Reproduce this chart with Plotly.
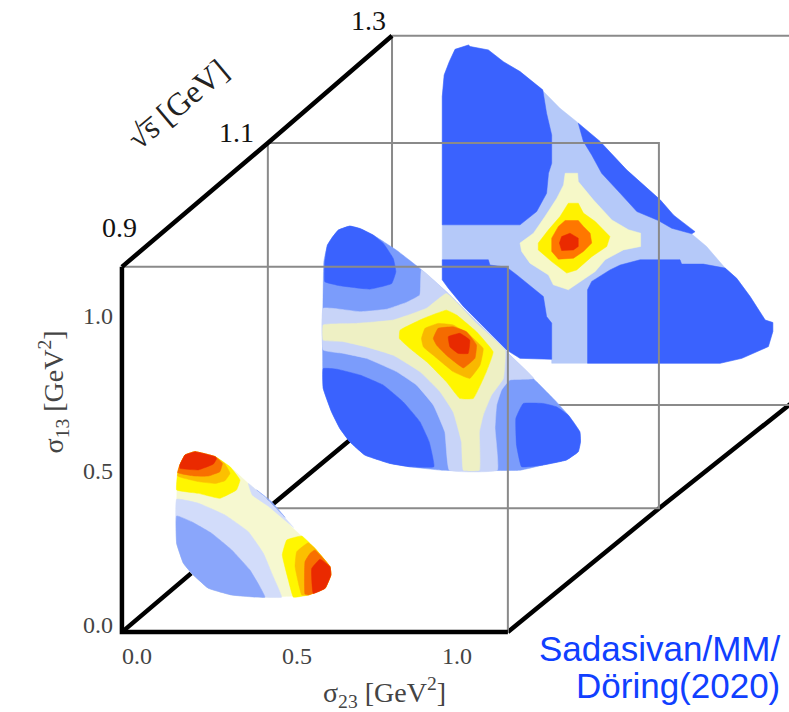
import plotly.graph_objects as go

# sqrt(s) slices and where each one sits in the oblique projection (sigma units)
sqrt_s = [0.9, 1.1, 1.3]
slice_dx = [0.0, 0.456, 0.844]
slice_dy = [0.0, 0.401, 0.748]
box_left = [-0.047, -0.047, -0.047]
box_right = [1.159, 1.175, 1.25]
box_bottom = [-0.023, -0.023, -0.036]
box_top = [1.159, 1.159, 1.159]
edge_smoothing = [0.3, 0.3, 0.0]

tick_vals = [0.0, 0.5, 1.0]
tick_text = ["0.0", "0.5", "1.0"]
sqrt_s_labels = ["0.9", "1.1", "1.3"]

# Black edges of the box, in projected sigma coordinates
edge_top = [(-0.047, 1.159), (0.409, 1.560), (0.797, 1.907)]
edge_floor_left = [(-0.047, -0.023), (0.409, 0.378), (0.797, 0.712)]
edge_floor_right = [(1.159, -0.023), (1.631, 0.377), (2.05, 0.722)]
edge_front = [(-0.047, 1.159), (-0.047, -0.023), (1.159, -0.023)]

# ---- sqrt(s) = 1.3 GeV: iso-intensity regions in (sigma23, sigma13) ----
back_outline = [(.192,1.129),(.150,1.115),(.132,1.075),(.116,1.032),(.110,.962),(.110,.369),(.129,.342),(.176,.283),(.311,.142),(.353,.115),(.452,.112),(.452,.099),(.978,.099),(1.046,.115),(1.129,.153),(1.143,.202),(1.143,.231),(1.119,.239),(1.072,.315),(1.030,.374),(.994,.407),(.936,.477),(.874,.531),(.791,.628),(.686,.725),(.603,.817),(.530,.881),(.478,.924),(.421,.984),(.353,1.043),(.301,1.075),(.254,1.113),(.197,1.124)]
back_dark1 = [(.110,.547),(.353,.547),(.405,.590),(.436,.649),(.442,.714),(.452,.746),(.452,.838),(.436,.908),(.424,.984),(.353,1.043),(.301,1.075),(.254,1.113),(.197,1.124),(.192,1.129),(.150,1.115),(.132,1.075),(.116,1.032),(.110,.962)]
back_dark2 = [(.535,.876),(.551,.817),(.577,.773),(.608,.714),(.666,.649),(.718,.590),(.785,.561),(.827,.536),(.890,.518),(.900,.525),(.832,.579),(.791,.628),(.686,.725),(.603,.817)]
back_dark3 = [(.564,.099),(.564,.337),(.577,.364),(.634,.401),(.666,.417),(.728,.434),(.853,.434),(.858,.420),(.926,.420),(.994,.407),(1.030,.374),(1.072,.315),(1.119,.239),(1.143,.231),(1.143,.202),(1.129,.153),(1.046,.115),(.978,.099)]
back_dark4 = [(.110,.434),(.254,.434),(.259,.417),(.311,.410),(.343,.385),(.395,.342),(.426,.315),(.436,.250),(.452,.229),(.452,.112),(.353,.115),(.311,.142),(.176,.283),(.129,.342),(.110,.369)]
back_cream = [(.494,.714),(.533,.714),(.535,.687),(.582,.628),(.640,.563),(.692,.531),(.730,.520),(.730,.477),(.676,.466),(.619,.434),(.588,.396),(.541,.364),(.504,.337),(.457,.353),(.442,.385),(.384,.423),(.358,.461),(.353,.488),(.395,.520),(.431,.574),(.468,.633),(.489,.676)]
back_yellow = [(.504,.617),(.535,.617),(.551,.585),(.588,.558),(.634,.509),(.624,.477),(.577,.444),(.530,.401),(.499,.391),(.452,.428),(.410,.466),(.410,.488),(.442,.531),(.478,.574)]
back_orange = [(.494,.561),(.535,.561),(.551,.542),(.572,.520),(.577,.488),(.551,.461),(.520,.439),(.473,.436),(.452,.461),(.452,.504),(.473,.542)]
back_red = [(.483,.509),(.509,.520),(.535,.504),(.535,.477),(.520,.466),(.483,.464),(.476,.488)]

# ---- sqrt(s) = 1.1 GeV ----
mid_outline = [(.209,.890),(.173,.877),(.152,.850),(.139,.828),(.128,.775),(.126,.365),(.152,.289),(.178,.235),(.209,.192),(.256,.149),(.334,.122),(.397,.111),(.496,.100),(.741,.100),(.814,.117),(.886,.133),(.923,.160),(.930,.192),(.928,.224),(.892,.278),(.855,.321),(.793,.386),(.699,.483),(.605,.580),(.511,.677),(.428,.753),(.355,.812),(.282,.861),(.241,.882)]
mid_light = [(.126,.624),(.241,.613),(.324,.621),(.386,.643),(.428,.667),(.433,.748),(.511,.677),(.605,.580),(.699,.483),(.784,.397),(.709,.392),(.683,.359),(.668,.311),(.663,.235),(.670,.100),(.520,.100),(.506,.224),(.470,.311),(.418,.375),(.355,.419),(.261,.462),(.189,.478),(.126,.489)]
mid_cream = [(.126,.570),(.230,.575),(.345,.586),(.449,.624),(.511,.672),(.605,.575),(.694,.489),(.689,.397),(.652,.343),(.626,.278),(.614,.224),(.614,.100),(.564,.100),(.558,.192),(.532,.289),(.491,.354),(.428,.419),(.345,.472),(.261,.499),(.189,.516),(.126,.521)]
mid_yellow = [(.366,.553),(.439,.591),(.511,.618),(.543,.602),(.605,.548),(.657,.483),(.636,.419),(.595,.332),(.553,.332),(.511,.386),(.449,.451),(.397,.494),(.364,.526)]
mid_amber = [(.433,.526),(.444,.559),(.485,.575),(.532,.570),(.584,.537),(.626,.494),(.616,.440),(.584,.397),(.532,.419),(.470,.472),(.439,.499)]
mid_orange = [(.470,.526),(.485,.559),(.532,.564),(.574,.548),(.605,.505),(.600,.462),(.564,.431),(.511,.472),(.480,.505)]
mid_red = [(.517,.532),(.553,.543),(.584,.521),(.579,.478),(.548,.478),(.522,.499)]
mid_dark1 = [(.209,.890),(.173,.877),(.152,.850),(.139,.828),(.131,.775),(.131,.710),(.178,.697),(.272,.686),(.340,.704),(.353,.742),(.345,.785),(.314,.834),(.282,.861),(.241,.882)]
mid_dark2 = [(.126,.429),(.168,.427),(.241,.408),(.314,.375),(.376,.321),(.428,.257),(.457,.192),(.472,.111),(.397,.111),(.334,.122),(.256,.149),(.209,.192),(.178,.235),(.152,.289),(.126,.365)]
mid_dark3 = [(.751,.316),(.814,.316),(.855,.305),(.892,.278),(.928,.224),(.930,.192),(.923,.160),(.886,.133),(.814,.117),(.746,.111),(.730,.181),(.728,.268)]

# ---- sqrt(s) = 0.9 GeV ----
front_outline = [(.181,.561),(.150,.550),(.134,.518),(.127,.491),(.124,.264),(.145,.200),(.171,.167),(.223,.119),(.296,.097),(.400,.090),(.535,.097),(.588,.119),(.606,.162),(.603,.189),(.556,.248),(.483,.318),(.431,.383),(.348,.458),(.291,.512),(.244,.545)]
front_light = [(.124,.407),(.192,.394),(.275,.356),(.348,.302),(.395,.232),(.426,.156),(.452,.090),(.400,.090),(.296,.097),(.223,.119),(.171,.167),(.145,.200),(.124,.264)]
front_medium = [(.124,.353),(.171,.334),(.233,.297),(.296,.243),(.353,.178),(.384,.124),(.400,.090),(.296,.097),(.223,.119),(.171,.167),(.145,.200),(.124,.264)]
front_strip_light = [(.348,.458),(.360,.421),(.410,.385),(.468,.334),(.489,.316),(.431,.383)]
front_strip_medium = [(.374,.437),(.400,.415),(.463,.348),(.421,.399)]
front_cap_yellow = [(.124,.437),(.192,.426),(.259,.410),(.311,.437),(.322,.469),(.291,.512),(.244,.545),(.181,.561),(.150,.550),(.134,.518),(.127,.491)]
front_cap_amber = [(.127,.482),(.192,.464),(.244,.458),(.275,.467),(.291,.491),(.275,.521),(.244,.545),(.181,.561),(.150,.550),(.134,.518)]
front_cap_orange = [(.127,.493),(.181,.482),(.223,.482),(.259,.496),(.267,.523),(.244,.545),(.181,.561),(.150,.550),(.134,.518)]
front_cap_red = [(.134,.507),(.192,.502),(.239,.521),(.249,.539),(.244,.545),(.181,.561),(.150,.550),(.134,.518)]
front_tip_yellow = [(.489,.090),(.473,.146),(.454,.227),(.468,.275),(.515,.288),(.556,.248),(.603,.189),(.606,.162),(.588,.119),(.535,.097)]
front_tip_amber = [(.515,.097),(.494,.189),(.499,.237),(.535,.266),(.556,.248),(.603,.189),(.606,.162),(.588,.119),(.535,.097)]
front_tip_orange = [(.525,.100),(.525,.205),(.541,.232),(.556,.243),(.603,.189),(.606,.162),(.588,.119),(.535,.097)]
front_tip_red = [(.551,.102),(.546,.183),(.572,.213),(.603,.189),(.606,.162),(.588,.119)]

# Paint order and colours for each slice
back_layers = [(back_outline,"#b5c9f9"),(back_dark1,"#3a62fe"),(back_dark2,"#3a62fe"),(back_dark3,"#3a62fe"),(back_dark4,"#3a62fe"),(back_cream,"#f6f8c8"),(back_yellow,"#fff200"),(back_orange,"#ff7700"),(back_red,"#ea2a00")]
mid_layers = [(mid_outline,"#7b9cfb"),(mid_light,"#c8d4f8"),(mid_cream,"#eef0c4"),(mid_yellow,"#fff600"),(mid_amber,"#f9b800"),(mid_orange,"#f56b00"),(mid_red,"#e82a00"),(mid_dark1,"#3a62fe"),(mid_dark2,"#3a62fe"),(mid_dark3,"#3a62fe")]
front_layers = [(front_outline,"#f6f8d0"),(front_light,"#d2dcfa"),(front_medium,"#8aa6fb"),(front_strip_light,"#d2dcfa"),(front_strip_medium,"#8aa6fb"),(front_cap_yellow,"#fff600"),(front_cap_amber,"#fcc000"),(front_cap_orange,"#f87000"),(front_cap_red,"#ea2a00"),(front_tip_yellow,"#fff600"),(front_tip_amber,"#fcc000"),(front_tip_orange,"#f87000"),(front_tip_red,"#ea2a00")]
all_layers = [front_layers, mid_layers, back_layers]

fig = go.Figure()


def line(points, color, width):
    fig.add_trace(go.Scatter(x=[p[0] for p in points], y=[p[1] for p in points], mode="lines",
                             line=dict(color=color, width=width), hoverinfo="skip", showlegend=False))


line(edge_floor_left, "#000000", 4.5)
line(edge_floor_right, "#000000", 4.5)

for i in (2, 1, 0):
    dx, dy = slice_dx[i], slice_dy[i]
    l, r, b, t = box_left[i] + dx, box_right[i] + dx, box_bottom[i] + dy, box_top[i] + dy
    line([(l, t), (r, t), (r, b), (l, b), (l, t)], "#8a8a8a", 2)
    if edge_smoothing[i] > 0:
        edge_style = dict(shape="spline", smoothing=edge_smoothing[i])
    else:
        edge_style = dict(shape="linear")
    for pts, col in all_layers[i]:
        closed = pts + pts[:1]
        fig.add_trace(go.Scatter(x=[p[0] + dx for p in closed], y=[p[1] + dy for p in closed], mode="lines",
                                 fill="toself", fillcolor=col,
                                 line=dict(color=col, width=0.5, **edge_style),
                                 hoverinfo="skip", showlegend=False))

line(edge_top, "#000000", 4.5)
line(edge_front, "#000000", 4.5)

annotations = [
    dict(x=-0.055, y=1.285, text=sqrt_s_labels[0]),
    dict(x=0.3125, y=1.595, text=sqrt_s_labels[1]),
    dict(x=0.725, y=1.955, text=sqrt_s_labels[2]),
]
for a in annotations:
    a.update(xref="x", yref="y", showarrow=False, font=dict(family="Liberation Serif", size=28, color="#111111"))

annotations += [
    dict(x=0.128, y=1.685, text="√s̅ [GeV]", textangle=-40, xref="x", yref="y", showarrow=False,
         font=dict(family="Liberation Serif", size=32, color="#222222")),
    dict(x=-0.26, y=0.755, text="σ<sub>13</sub> [GeV<sup>2</sup>]", textangle=-90, xref="x", yref="y", showarrow=False,
         font=dict(family="Liberation Serif", size=28, color="#444444")),
    dict(x=0.772, y=-0.22, text="σ<sub>23</sub> [GeV<sup>2</sup>]", xref="x", yref="y", showarrow=False,
         font=dict(family="Liberation Serif", size=28, color="#444444")),
    dict(x=2.015, y=-0.075, text="Sadasivan/MM/", xref="x", yref="y", xanchor="right", showarrow=False,
         font=dict(family="Liberation Sans", size=35, color="#1040ff")),
    dict(x=2.015, y=-0.195, text="Döring(2020)", xref="x", yref="y", xanchor="right", showarrow=False,
         font=dict(family="Liberation Sans", size=35, color="#1040ff")),
]

fig.update_layout(
    width=789, height=712, margin=dict(l=0, r=0, t=0, b=0), showlegend=False,
    paper_bgcolor="white", plot_bgcolor="white", annotations=annotations,
    xaxis=dict(range=[-0.428, 2.0375], domain=[0, 1], anchor="free", position=0.112,
               tickmode="array", tickvals=tick_vals, ticktext=tick_text, ticks="", showgrid=False,
               zeroline=False, showline=False, ticklabelstandoff=7,
               tickfont=dict(family="Liberation Serif", size=24, color="#444444")),
    yaxis=dict(range=[-0.2816, 2.0227], domain=[0, 1], anchor="free", position=0.1546,
               tickmode="array", tickvals=tick_vals, ticktext=tick_text, ticks="", showgrid=False,
               zeroline=False, showline=False, ticklabelstandoff=9,
               tickfont=dict(family="Liberation Serif", size=24, color="#444444")),
)

fig.write_html("out.html", config=dict(displayModeBar=False),
               post_script="document.body.style.margin='0';document.body.style.overflow='hidden';")
